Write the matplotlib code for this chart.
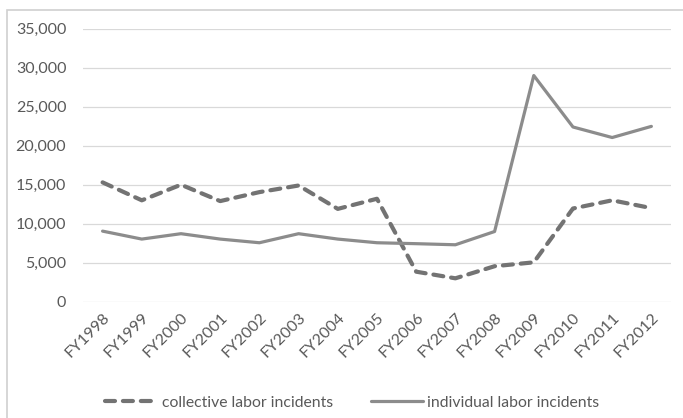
import numpy as np
import matplotlib.pyplot as plt
from matplotlib.patches import Rectangle

plt.rcParams["font.family"] = ["Lato", "DejaVu Sans"]

# fiscal years and incident counts
years = ["FY1998", "FY1999", "FY2000", "FY2001", "FY2002", "FY2003", "FY2004", "FY2005",
         "FY2006", "FY2007", "FY2008", "FY2009", "FY2010", "FY2011", "FY2012"]
collective = [15300, 13000, 15000, 12900, 14050, 14900, 11900, 13200,
              3850, 3000, 4550, 5050, 11950, 13000, 12000]
individual = [9050, 8030, 8720, 8030, 7560, 8720, 8030, 7560,
              7440, 7300, 9000, 29000, 22400, 21050, 22480]

text_color = "#595959"

fig = plt.figure(figsize=(6.83, 4.18), dpi=100)
ax = fig.add_axes([0.1215, 0.2782, 0.8609, 0.6531])

# thin frame around the chart area
fig.patches.append(Rectangle((7 / 683, -0.1), 1.2, 1 - 10 / 418 + 0.1,
                             transform=fig.transFigure, fill=False,
                             edgecolor="#d0d0d0", linewidth=1.2))

x = np.arange(len(years))
ax.plot(x, collective, color="#737373", linewidth=3.0, dashes=(2.4, 1.9),
        dash_capstyle="round", solid_capstyle="round",
        label="collective labor incidents", zorder=3)
ax.plot(x, individual, color="#8c8c8c", linewidth=2.3,
        solid_capstyle="round", solid_joinstyle="round",
        label="individual labor incidents", zorder=3)

ax.set_xlim(-0.5, len(years) - 0.5)
ax.set_ylim(0, 35000)
ax.set_yticks(np.arange(0, 35001, 5000))
ax.set_yticklabels([f"{v:,}" for v in range(0, 35001, 5000)])
ax.set_xticks(x)
ax.set_xticklabels(years, rotation=45, ha="right", rotation_mode="anchor")

ax.grid(axis="y", color="#d9d9d9", linewidth=0.9)
ax.set_axisbelow(True)
for side in ["top", "right", "left", "bottom"]:
    ax.spines[side].set_visible(False)
ax.tick_params(length=0, labelsize=11.5, labelcolor=text_color)
ax.tick_params(axis="y", pad=12)
ax.tick_params(axis="x", pad=6)

fig.legend(loc="center", bbox_to_anchor=(0.516, 0.036), ncol=2, frameon=False,
           fontsize=11.3, labelcolor=text_color, handlelength=3.3,
           handletextpad=0.3, columnspacing=2.4)

fig.savefig("out.png", dpi=100)
